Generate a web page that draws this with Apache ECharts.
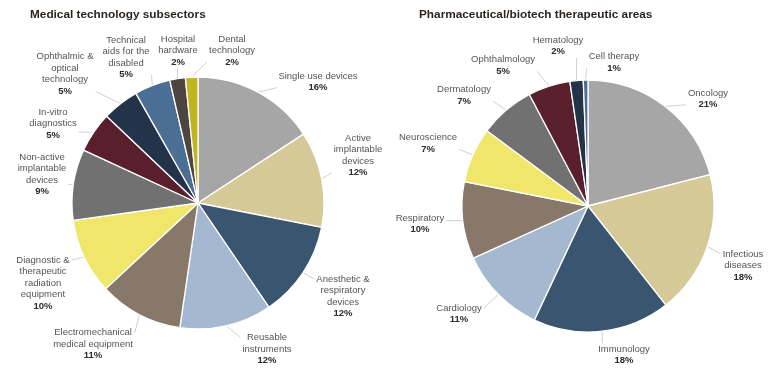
<!DOCTYPE html>
<html><head><meta charset="utf-8">
<script src="https://cdn.jsdelivr.net/npm/echarts@6/dist/echarts.min.js"></script>
<style>html,body{margin:0;padding:0;background:#fff}#c{width:776px;height:370px}</style>
</head><body><div id="c"></div>
<script>
// ---- Data ----
const medtechTitle = 'Medical technology subsectors';
const medtechCategories = [
  'Single use devices',
  'Active\nimplantable\ndevices',
  'Anesthetic &\nrespiratory\ndevices',
  'Reusable\ninstruments',
  'Electromechanical\nmedical equipment',
  'Diagnostic &\ntherapeutic\nradiation\nequipment',
  'Non-active\nimplantable\ndevices',
  'In-vitro\ndiagnostics',
  'Ophthalmic &\noptical\ntechnology',
  'Technical\naids for the\ndisabled',
  'Hospital\nhardware',
  'Dental\ntechnology'
];
const medtechValues = [15.8, 12.3, 12.4, 11.8, 10.8, 9.7, 9.1, 5.2, 4.7, 4.6, 2.0, 1.6];

const pharmaTitle = 'Pharmaceutical/biotech therapeutic areas';
const pharmaCategories = [
  'Oncology',
  'Infectious\ndiseases',
  'Immunology',
  'Cardiology',
  'Respiratory',
  'Neuroscience',
  'Dermatology',
  'Ophthalmology',
  'Hematology',
  'Cell therapy'
];
const pharmaValues = [21, 18.4, 17.6, 11.2, 9.9, 7.1, 7.1, 5.4, 1.7, 0.6];

// ---- Styles / layout ----
const medtechColors = ['#a6a6a6','#d5c998','#3a5570','#a4b9d0','#877869','#efe66a','#717171','#5a1f2c','#22334a','#4b6e94','#4f4540','#c0b51c'];
const pharmaColors  = ['#a6a6a6','#d5c998','#3a5570','#a4b9d0','#877869','#efe66a','#717171','#5a1f2c','#22334a','#4b6e94'];
const medtechCenter = [198, 203];
const pharmaCenter = [588, 206];
const pieRadius = 126;
// label block centre offsets from pie centre
const medtechLabelOffsets = [[120,-121],[160,-47.5],[145,93.5],[69,146],[-105,141],[-155,80],[-156,-28.5],[-145,-79.5],[-133,-129],[-72,-145.5],[-20,-152.5],[34,-152.5]];
const pharmaLabelOffsets = [[120,-107],[155,59.5],[36,149],[-129,108],[-168,18],[-160,-62.5],[-124,-110.5],[-85,-140.5],[-30,-160],[26,-143.5]];

const FONT = '"Liberation Sans", Arial, sans-serif';

function makeLayout(center, values, offsets) {
  const total = values.reduce((a, b) => a + b, 0);
  const mids = [];
  let cum = 0;
  values.forEach(v => { mids.push((cum + v / 2) / total * Math.PI * 2); cum += v; });
  return function (p) {
    const i = p.dataIndex;
    const o = offsets[i];
    const x = center[0] + o[0], y = center[1] + o[1];
    const w = p.labelRect.width, h = p.labelRect.height;
    const ang = mids[i];
    const e = [center[0] + pieRadius * Math.sin(ang), center[1] - pieRadius * Math.cos(ang)];
    const l = x - w / 2 - 2, r = x + w / 2 + 2;
    let ex, ey;
    if (e[0] < l || e[0] > r) {
      ex = e[0] < l ? l : r;
      ey = Math.min(Math.max(e[1], y - h / 2 + 5), y + h / 2 - 5);
    } else {
      ex = e[0];
      ey = e[1] < y ? y - h / 2 - 1 : y + h / 2 + 1;
    }
    return { x: x, y: y, align: 'center', verticalAlign: 'middle', labelLinePoints: [e, [ex, ey]] };
  };
}

function makeSeries(names, values, colors, center, offsets) {
  return {
    type: 'pie',
    center: center,
    radius: pieRadius,
    startAngle: 90,
    clockwise: true,
    avoidLabelOverlap: false,
    animation: false,
    silent: true,
    data: names.map((n, i) => ({ name: n, value: values[i], itemStyle: { color: colors[i] } })),
    itemStyle: { borderColor: '#fff', borderWidth: 1.3 },
    label: {
      show: true,
      position: 'outside',
      fontFamily: FONT,
      formatter: p => '{n|' + p.name + '}\n{p|' + Math.round(p.value) + '%}',
      rich: {
        n: { fontFamily: FONT, fontSize: 9.5, color: '#555', lineHeight: 11.5, align: 'center' },
        p: { fontFamily: FONT, fontSize: 9.5, fontWeight: 'bold', color: '#2b2b2b', lineHeight: 11.5, align: 'center' }
      }
    },
    labelLine: { show: true, length: 6, length2: 4, smooth: false, lineStyle: { color: '#c4c4c4', width: 0.8 } },
    labelLayout: makeLayout(center, values, offsets),
    emphasis: { disabled: true }
  };
}

const chart = echarts.init(document.getElementById('c'), null, { renderer: 'canvas' });
chart.setOption({
  backgroundColor: '#fff',
  animation: false,
  title: [
    { text: medtechTitle, left: 30, top: 9, padding: 0, textStyle: { fontFamily: FONT, fontSize: 11.8, fontWeight: 'bold', color: '#2b2622' } },
    { text: pharmaTitle, left: 419, top: 9, padding: 0, textStyle: { fontFamily: FONT, fontSize: 11.8, fontWeight: 'bold', color: '#2b2622' } }
  ],
  series: [
    makeSeries(medtechCategories, medtechValues, medtechColors, medtechCenter, medtechLabelOffsets),
    makeSeries(pharmaCategories, pharmaValues, pharmaColors, pharmaCenter, pharmaLabelOffsets)
  ]
});
</script>
</body></html>
